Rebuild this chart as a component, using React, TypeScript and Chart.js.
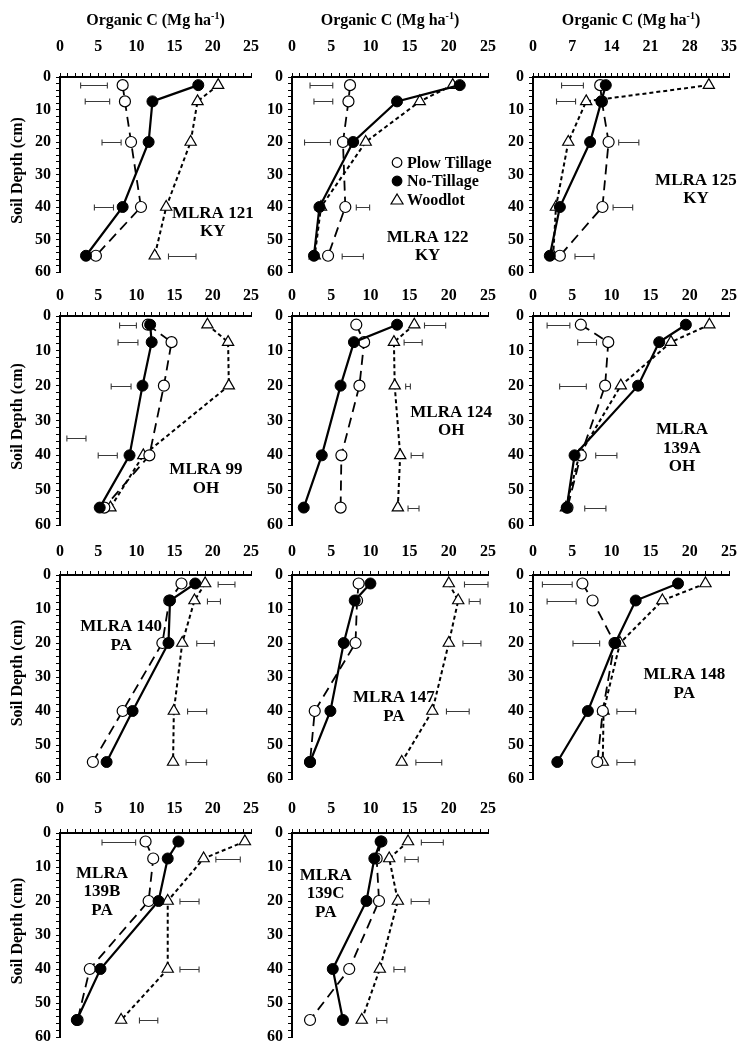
import React, { useEffect, useRef } from "react";
import { Chart, registerables } from "chart.js";
Chart.register(...registerables);

// ---------- DATA ----------
const depths = [2.5, 7.5, 20, 40, 55];
const seriesNames = ["Plow Tillage", "No-Tillage", "Woodlot"];
const xTitleMain = "Organic C (Mg ha";
const xTitleSup = "-1";
const yTitle = "Soil Depth (cm)";

// MLRA 121 KY
const m121Plow = [8.2, 8.5, 9.3, 10.6, 4.7];
const m121NoTill = [18.1, 12.1, 11.6, 8.2, 3.4];
const m121Woodlot = [20.7, 18.0, 17.1, 13.9, 12.4];
const m121Lsd = [[2.7, 6.2], [3.3, 6.5], [5.5, 8.0], [4.5, 7.0], [14.2, 17.8]];

// MLRA 122 KY
const m122Plow = [7.4, 7.2, 6.5, 6.8, 4.6];
const m122NoTill = [21.4, 13.4, 7.8, 3.5, 2.8];
const m122Woodlot = [20.5, 16.3, 9.4, 3.7, 2.9];
const m122Lsd = [[2.3, 5.2], [2.8, 5.2], [1.6, 4.9], [8.2, 9.9], [6.4, 9.1]];

// MLRA 125 KY
const m125Plow = [12.0, 12.3, 13.5, 12.4, 4.8];
const m125NoTill = [13.0, 12.2, 10.2, 4.8, 3.0];
const m125Woodlot = [31.4, 9.5, 6.3, 4.1, 3.6];
const m125Lsd = [[5.1, 9.0], [4.2, 7.6], [15.3, 18.9], [14.3, 17.8], [7.5, 10.9]];

// MLRA 99 OH
const m99Plow = [11.5, 14.6, 13.6, 11.7, 5.8];
const m99NoTill = [11.8, 12.0, 10.8, 9.1, 5.2];
const m99Woodlot = [19.3, 22.0, 22.1, 10.9, 6.6];
const m99Lsd = [[7.8, 10.0], [7.6, 10.2], [6.7, 9.3], [0.9, 3.4], [5.0, 7.5]];
const m99LsdDepths = [2.5, 7.5, 20, 35, 40];

// MLRA 124 OH
const m124Plow = [8.2, 9.2, 8.6, 6.3, 6.2];
const m124NoTill = [13.4, 7.9, 6.2, 3.8, 1.5];
const m124Woodlot = [15.6, 13.0, 13.1, 13.8, 13.5];
const m124Lsd = [[16.9, 19.6], [14.3, 16.6], [14.5, 15.1], [15.2, 16.7], [14.8, 16.2]];

// MLRA 139A OH
const m139aPlow = [6.1, 9.6, 9.2, 6.1, 4.4];
const m139aNoTill = [19.5, 16.1, 13.4, 5.3, 4.3];
const m139aWoodlot = [22.5, 17.6, 11.2, 5.9, 4.2];
const m139aLsd = [[1.8, 4.7], [5.7, 8.1], [3.4, 6.8], [8.0, 10.7], [6.6, 9.3]];

// MLRA 140 PA
const m140Plow = [15.9, 14.3, 13.4, 8.2, 4.3];
const m140NoTill = [17.7, 14.4, 14.2, 9.5, 6.1];
const m140Woodlot = [19.0, 17.6, 16.0, 14.9, 14.8];
const m140Lsd = [[20.7, 22.9], [19.3, 21.0], [17.9, 20.2], [16.7, 19.2], [16.5, 19.2]];

// MLRA 147 PA
const m147Plow = [8.5, 8.3, 8.1, 2.9, 2.3];
const m147NoTill = [10.0, 8.0, 6.6, 4.9, 2.3];
const m147Woodlot = [20.0, 21.2, 20.0, 17.9, 14.0];
const m147Lsd = [[22.0, 25.0], [22.6, 24.0], [21.8, 24.1], [19.7, 22.6], [15.8, 19.1]];

// MLRA 148 PA
const m148Plow = [6.3, 7.6, 10.4, 8.9, 8.2];
const m148NoTill = [18.5, 13.1, 10.5, 7.0, 3.1];
const m148Woodlot = [22.0, 16.5, 11.1, 9.0, 8.9];
const m148Lsd = [[1.2, 5.0], [1.8, 5.5], [5.1, 8.5], [10.7, 13.1], [10.7, 13.0]];

// MLRA 139B PA
const m139bPlow = [11.2, 12.2, 11.6, 3.9, 2.3];
const m139bNoTill = [15.5, 14.1, 12.9, 5.3, 2.2];
const m139bWoodlot = [24.2, 18.8, 14.1, 14.1, 8.0];
const m139bLsd = [[5.5, 9.9], [20.4, 23.6], [15.7, 18.2], [15.7, 18.2], [10.4, 12.8]];

// MLRA 139C PA
const m139cPlow = [11.4, 10.8, 11.1, 7.3, 2.3];
const m139cNoTill = [11.3, 10.5, 9.5, 5.2, 6.5];
const m139cWoodlot = [14.8, 12.4, 13.5, 11.2, 8.9];
const m139cLsd = [[16.5, 19.3], [14.4, 16.1], [15.2, 17.5], [13.0, 14.4], [10.8, 12.1]];

// ---------- LAYOUT ----------
const COLS = [
  { plotLeft: 60, plotWidth: 191, yAxisW: 60 },
  { plotLeft: 292, plotWidth: 196, yAxisW: 42 },
  { plotLeft: 533, plotWidth: 196, yAxisW: 42 },
];
const ROWS = [
  { plotTop: 77, plotHeight: 195, xAxisH: 77, tickPad: 17 },
  { plotTop: 316, plotHeight: 209, xAxisH: 34, tickPad: 7 },
  { plotTop: 575, plotHeight: 204, xAxisH: 34, tickPad: 10 },
  { plotTop: 833, plotHeight: 204, xAxisH: 34, tickPad: 11 },
];

const FONT = "'Liberation Serif', 'Times New Roman', serif";

type PanelCfg = {
  id: string; row: number; col: number; xMax: number; xLabelStep: number;
  plow: number[]; noTill: number[]; woodlot: number[];
  lsd: number[][]; lsdDepths: number[];
  label: string[]; labelAt: [number, number]; legendAt?: [number, number];
};

const panels: PanelCfg[] = [
  { id: "121", row: 0, col: 0, xMax: 25, xLabelStep: 5, plow: m121Plow, noTill: m121NoTill, woodlot: m121Woodlot, lsd: m121Lsd, lsdDepths: depths, label: ["MLRA 121", "KY"], labelAt: [20.0, 41.9] },
  { id: "122", row: 0, col: 1, xMax: 25, xLabelStep: 5, plow: m122Plow, noTill: m122NoTill, woodlot: m122Woodlot, lsd: m122Lsd, lsdDepths: depths, label: ["MLRA 122", "KY"], labelAt: [17.3, 49.3], legendAt: [13.4, 26.3] },
  { id: "125", row: 0, col: 2, xMax: 35, xLabelStep: 7, plow: m125Plow, noTill: m125NoTill, woodlot: m125Woodlot, lsd: m125Lsd, lsdDepths: depths, label: ["MLRA 125", "KY"], labelAt: [29.1, 31.8] },
  { id: "99", row: 1, col: 0, xMax: 25, xLabelStep: 5, plow: m99Plow, noTill: m99NoTill, woodlot: m99Woodlot, lsd: m99Lsd, lsdDepths: m99LsdDepths, label: ["MLRA 99", "OH"], labelAt: [19.1, 44.2] },
  { id: "124", row: 1, col: 1, xMax: 25, xLabelStep: 5, plow: m124Plow, noTill: m124NoTill, woodlot: m124Woodlot, lsd: m124Lsd, lsdDepths: depths, label: ["MLRA 124", "OH"], labelAt: [20.3, 27.6] },
  { id: "139A", row: 1, col: 2, xMax: 25, xLabelStep: 5, plow: m139aPlow, noTill: m139aNoTill, woodlot: m139aWoodlot, lsd: m139aLsd, lsdDepths: depths, label: ["MLRA", "139A", "OH"], labelAt: [19.0, 32.7] },
  { id: "140", row: 2, col: 0, xMax: 25, xLabelStep: 5, plow: m140Plow, noTill: m140NoTill, woodlot: m140Woodlot, lsd: m140Lsd, lsdDepths: depths, label: ["MLRA 140", "PA"], labelAt: [8.0, 15.3] },
  { id: "147", row: 2, col: 1, xMax: 25, xLabelStep: 5, plow: m147Plow, noTill: m147NoTill, woodlot: m147Woodlot, lsd: m147Lsd, lsdDepths: depths, label: ["MLRA 147", "PA"], labelAt: [13.0, 36.2] },
  { id: "148", row: 2, col: 2, xMax: 25, xLabelStep: 5, plow: m148Plow, noTill: m148NoTill, woodlot: m148Woodlot, lsd: m148Lsd, lsdDepths: depths, label: ["MLRA 148", "PA"], labelAt: [19.3, 29.4] },
  { id: "139B", row: 3, col: 0, xMax: 25, xLabelStep: 5, plow: m139bPlow, noTill: m139bNoTill, woodlot: m139bWoodlot, lsd: m139bLsd, lsdDepths: depths, label: ["MLRA", "139B", "PA"], labelAt: [5.5, 11.8] },
  { id: "139C", row: 3, col: 1, xMax: 25, xLabelStep: 5, plow: m139cPlow, noTill: m139cNoTill, woodlot: m139cWoodlot, lsd: m139cLsd, lsdDepths: depths, label: ["MLRA", "139C", "PA"], labelAt: [4.3, 12.4] },
];

function zeroPad(s: any) {
  s.paddingLeft = 0;
  s.paddingRight = 0;
  s.paddingTop = 0;
  s.paddingBottom = 0;
}

function PanelChart({ p }: { p: PanelCfg }) {
  const ref = useRef<HTMLCanvasElement | null>(null);
  const col = COLS[p.col];
  const row = ROWS[p.row];
  const padR = 14;
  const padB = p.row === 3 ? 8 : 10;
  const left = col.plotLeft - col.yAxisW;
  const top = row.plotTop - row.xAxisH;
  const width = col.yAxisW + col.plotWidth + padR;
  const height = row.xAxisH + row.plotHeight + padB;

  useEffect(() => {
    const canvas = ref.current!;
    const decor = {
      id: "decor",
      beforeDatasetsDraw(chart: any) {
        const { ctx } = chart;
        const x = chart.scales.x, y = chart.scales.y;
        ctx.save();
        ctx.strokeStyle = "#3a3a3a";
        ctx.lineWidth = 1.1;
        p.lsd.forEach((r, i) => {
          const yy = Math.round(y.getPixelForValue(p.lsdDepths[i])) + 0.5;
          const x0 = x.getPixelForValue(r[0]);
          const x1 = x.getPixelForValue(r[1]);
          ctx.beginPath();
          ctx.moveTo(x0, yy); ctx.lineTo(x1, yy);
          ctx.moveTo(x0, yy - 3); ctx.lineTo(x0, yy + 3);
          ctx.moveTo(x1, yy - 3); ctx.lineTo(x1, yy + 3);
          ctx.stroke();
        });
        ctx.restore();
      },
      afterDraw(chart: any) {
        const { ctx, chartArea } = chart;
        const x = chart.scales.x, y = chart.scales.y;
        ctx.save();
        ctx.fillStyle = "#000";
        // panel label
        ctx.font = `bold 17px ${FONT}`;
        ctx.textAlign = "center";
        ctx.textBaseline = "middle";
        const lx = x.getPixelForValue(p.labelAt[0]);
        const ly = y.getPixelForValue(p.labelAt[1]);
        p.label.forEach((t, i) => ctx.fillText(t, lx, ly + i * 18.5));
        // legend
        if (p.legendAt) {
          const gx = x.getPixelForValue(p.legendAt[0]);
          const gy = y.getPixelForValue(p.legendAt[1]);
          ctx.font = `bold 16px ${FONT}`;
          ctx.textAlign = "left";
          seriesNames.forEach((name, i) => {
            const yy = gy + i * 18.5;
            ctx.beginPath();
            ctx.lineWidth = 1.2;
            ctx.strokeStyle = "#000";
            if (i === 2) {
              ctx.moveTo(gx, yy - 5.5); ctx.lineTo(gx + 6, yy + 4.5); ctx.lineTo(gx - 6, yy + 4.5); ctx.closePath();
              ctx.fillStyle = "#fff"; ctx.fill(); ctx.stroke();
            } else {
              ctx.arc(gx, yy, 4.8, 0, Math.PI * 2);
              ctx.fillStyle = i === 1 ? "#000" : "#fff"; ctx.fill(); ctx.stroke();
            }
            ctx.fillStyle = "#000";
            ctx.fillText(name, gx + 10, yy + 1);
          });
        }
        // x title (top row)
        if (p.row === 0) {
          ctx.textBaseline = "alphabetic";
          ctx.textAlign = "left";
          ctx.font = `bold 16px ${FONT}`;
          const w1 = ctx.measureText(xTitleMain).width;
          ctx.font = `bold 10px ${FONT}`;
          const w2 = ctx.measureText(xTitleSup).width;
          ctx.font = `bold 16px ${FONT}`;
          const w3 = ctx.measureText(")").width;
          const tw = w1 + w2 + w3;
          const cx = (chartArea.left + chartArea.right) / 2;
          const base = 25;
          let sx = cx - tw / 2;
          ctx.fillText(xTitleMain, sx, base);
          sx += w1;
          ctx.font = `bold 10px ${FONT}`;
          ctx.fillText(xTitleSup, sx, base - 6);
          sx += w2;
          ctx.font = `bold 16px ${FONT}`;
          ctx.fillText(")", sx, base);
        }
        // y title (first column)
        if (p.col === 0) {
          ctx.save();
          ctx.translate(18, (chartArea.top + chartArea.bottom) / 2 - 4);
          ctx.rotate(-Math.PI / 2);
          ctx.textAlign = "center";
          ctx.textBaseline = "middle";
          ctx.font = `bold 16px ${FONT}`;
          ctx.fillText(yTitle, 0, 0);
          ctx.restore();
        }
        ctx.restore();
      },
    };

    const mk = (vals: number[]) => vals.map((v, i) => ({ x: v, y: depths[i] }));
    const chart = new Chart(canvas, {
      type: "scatter",
      data: {
        datasets: [
          {
            label: seriesNames[1], data: mk(p.noTill), showLine: true,
            borderColor: "#000", borderWidth: 2.2, backgroundColor: "#000",
            pointBackgroundColor: "#000", pointBorderColor: "#000", pointRadius: 5.5, pointBorderWidth: 1,
            pointStyle: "circle", clip: false as any,
          },
          {
            label: seriesNames[0], data: mk(p.plow), showLine: true,
            borderColor: "#000", borderWidth: 1.8, borderDash: [10, 6], backgroundColor: "#fff",
            pointBackgroundColor: "#fff", pointBorderColor: "#000", pointRadius: 5.5, pointBorderWidth: 1.2,
            pointStyle: "circle", clip: false as any,
          },
          {
            label: seriesNames[2], data: mk(p.woodlot), showLine: true,
            borderColor: "#000", borderWidth: 2, borderDash: [4, 3], backgroundColor: "#fff",
            pointBackgroundColor: "#fff", pointBorderColor: "#000", pointRadius: 6.5, pointBorderWidth: 1.2,
            pointStyle: "triangle", clip: false as any,
          },
        ],
      },
      options: {
        animation: false,
        responsive: false,
        devicePixelRatio: 1,
        layout: { autoPadding: false, padding: { left: 0, top: 0, right: padR, bottom: padB } } as any,
        plugins: { legend: { display: false }, tooltip: { enabled: false }, title: { display: false } },
        scales: {
          x: {
            type: "linear", position: "top", min: 0, max: p.xMax,
            ticks: {
              stepSize: 1, autoSkip: false, maxRotation: 0, padding: row.tickPad, color: "#000",
              font: { family: FONT, size: 16, weight: "bold" },
              callback: (v: any) => (Number(v) % p.xLabelStep === 0 ? String(v) : ""),
            },
            grid: { drawOnChartArea: false, drawTicks: true, tickLength: 4, color: "#000", lineWidth: 1 },
            border: { display: true, color: "#000", width: 2 },
            afterFit: (s: any) => { s.height = row.xAxisH; zeroPad(s); },
          },
          y: {
            type: "linear", position: "left", reverse: true, min: 0, max: 60,
            ticks: {
              stepSize: 2, autoSkip: false, padding: 5, color: "#000",
              font: { family: FONT, size: 16, weight: "bold" },
              callback: (v: any) => (Number(v) % 10 === 0 ? String(v) : ""),
            },
            grid: { drawOnChartArea: false, drawTicks: true, tickLength: 4, color: "#000", lineWidth: 1 },
            border: { display: true, color: "#000", width: 2 },
            afterFit: (s: any) => { s.width = col.yAxisW; zeroPad(s); },
          },
        },
      } as any,
      plugins: [decor],
    });
    return () => chart.destroy();
  }, []);

  return (
    <canvas
      ref={ref}
      width={width}
      height={height}
      style={{ position: "absolute", left, top, width, height }}
    />
  );
}

export default function App() {
  return (
    <div style={{ position: "absolute", left: 0, top: 0, width: 739, height: 1045, background: "#fff", overflow: "hidden" }}>
      {panels.map((p) => (
        <PanelChart key={p.id} p={p} />
      ))}
    </div>
  );
}
